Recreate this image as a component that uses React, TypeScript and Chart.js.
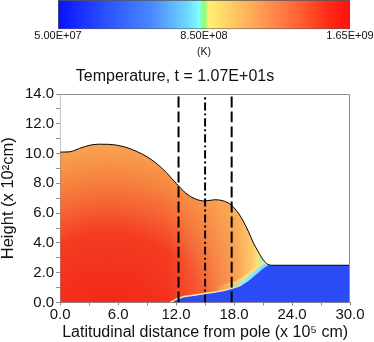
import React, { useEffect, useRef } from 'react';
import { Chart, registerables } from 'chart.js';

Chart.register(...registerables);

const FONT = "'Liberation Sans', Arial, Helvetica, sans-serif";

// ---- data ----
const surfaceX = [0, 1, 2, 3, 4, 5, 6, 7, 8, 9, 10, 11, 12, 13, 14, 15, 16, 17, 17.75, 18.5, 19, 19.5, 20, 20.5, 21, 21.5, 22, 30];
const surfaceH = [10.1, 10.12, 10.35, 10.55, 10.63, 10.62, 10.55, 10.38, 10.12, 9.78, 9.32, 8.72, 8.0, 7.35, 6.95, 6.82, 6.9, 6.8, 6.52, 5.95, 5.4, 4.75, 4.0, 3.42, 2.88, 2.56, 2.5, 2.5];

const coldX = [11.4, 11.7, 12, 12.5, 13, 14, 15, 16, 17, 17.75, 18.5, 19, 19.5, 20, 20.5, 21, 21.5, 30];
const coldH = [0, 0.1, 0.22, 0.34, 0.42, 0.5, 0.6, 0.7, 0.82, 0.95, 1.1, 1.3, 1.52, 1.78, 2.06, 2.33, 2.5, 2.5];

const dashedLineX = [12.25, 17.75];
const dashDotLineX = [15];

const heightRange = [0, 14];
const distanceRange = [0, 30];
const xLabelTicks = [0, 6, 12, 18, 24, 30];
const yLabelTicks = [0, 2, 4, 6, 8, 10, 12, 14];

const colorbarRange = [5.0e7, 1.65e9];
const colorbarTicks = [5.0e7, 8.5e8, 1.65e9];
const colorbarUnit = '(K)';
const titleText = 'Temperature, t = 1.07E+01s';
const xTitle = 'Latitudinal distance from pole (x 10\u2075 cm)';
const yTitle = 'Height (x 10\u00B2cm)';

// ---- helpers ----
function fmtSci(v: number) {
  const [m, e] = v.toExponential(2).split('e');
  const sign = e[0] === '-' ? '-' : '+';
  const digits = e.replace(/[+-]/, '').padStart(2, '0');
  return `${m}E${sign}${digits}`;
}

const toPts = (xs: number[], ys: number[]) => xs.map((x, i) => ({ x, y: ys[i] }));
const vLine = (x: number) => heightRange.map((y) => ({ x, y }));

function hGrad(chart: any, stops: [number, string][]) {
  const { ctx, scales } = chart;
  const x0 = scales.x.getPixelForValue(distanceRange[0]);
  const x1 = scales.x.getPixelForValue(distanceRange[1]);
  const g = ctx.createLinearGradient(x0, 0, x1, 0);
  const span = distanceRange[1] - distanceRange[0];
  stops.forEach(([v, c]) => g.addColorStop(Math.min(1, Math.max(0, (v - distanceRange[0]) / span)), c));
  return g;
}

function hotGrad(chart: any) {
  const { ctx, scales } = chart;
  const cx = scales.x.getPixelForValue(5);
  const cy = scales.y.getPixelForValue(-2);
  const g = ctx.createRadialGradient(cx, cy, 0, cx, cy, 200);
  g.addColorStop(0, '#f22416');
  g.addColorStop(0.3, '#f3301c');
  g.addColorStop(0.5, '#f43c22');
  g.addColorStop(0.62, '#f55e32');
  g.addColorStop(0.77, '#f6843f');
  g.addColorStop(0.91, '#f89e4e');
  g.addColorStop(1, '#f9a855');
  return g;
}

const safe = (fn: (chart: any) => any) => (c: any) => (c.chart.chartArea && c.chart.scales.x ? fn(c.chart) : 'rgba(0,0,0,0)');

const framePlugin = {
  id: 'frame',
  afterDatasetsDraw(chart: any) {
    const { ctx, chartArea } = chart;
    const l = Math.round(chartArea.left) + 0.5;
    const t = Math.round(chartArea.top) + 0.5;
    const r = Math.round(chartArea.right) - 0.5;
    const b = Math.round(chartArea.bottom);
    ctx.save();
    ctx.strokeStyle = '#8c8c8c';
    ctx.lineWidth = 1;
    ctx.beginPath();
    ctx.moveTo(l, t);
    ctx.lineTo(r, t);
    ctx.lineTo(r, b);
    ctx.stroke();
    ctx.restore();
  },
};

export default function App() {
  const mainRef = useRef<HTMLCanvasElement>(null);
  const barRef = useRef<HTMLCanvasElement>(null);

  useEffect(() => {
    Chart.defaults.font.family = FONT;

    const lineBase = { pointRadius: 0, pointHoverRadius: 0, cubicInterpolationMode: 'monotone' as const };

    const main = new Chart(mainRef.current!, {
      type: 'line',
      data: {
        datasets: [
          { ...lineBase, data: vLine(dashedLineX[0]), borderColor: '#000', borderWidth: 2, borderDash: [11, 4], fill: false },
          { ...lineBase, data: vLine(dashedLineX[1]), borderColor: '#000', borderWidth: 2, borderDash: [11, 4], fill: false },
          { ...lineBase, data: vLine(dashDotLineX[0]), borderColor: '#000', borderWidth: 2, borderDash: [8, 3, 2, 3], fill: false },
          // sky mask + surface line
          { ...lineBase, data: toPts(surfaceX, surfaceH), borderColor: '#000', borderWidth: 1, fill: 'end', backgroundColor: '#ffffff' },
          // cold region
          {
            ...lineBase,
            data: toPts(coldX, coldH),
            fill: 'origin',
            backgroundColor: '#2b4cf6',
            borderWidth: 1.5,
            borderColor: safe((ch) => hGrad(ch, [[11.4, '#fbe6a0'], [17, '#fbe0a0'], [19.5, '#90e8ff'], [21.4, '#70c0ff'], [21.7, '#2b4cf6']])),
          },
          // cyan band
          {
            ...lineBase,
            data: toPts(coldX, coldH),
            fill: false,
            borderWidth: 6,
            borderColor: safe((ch) => hGrad(ch, [[17.5, 'rgba(130,235,255,0)'], [19.5, 'rgba(130,235,255,1)'], [21.3, 'rgba(130,235,255,1)'], [21.6, 'rgba(130,235,255,0)']])),
          },
          // yellow band
          {
            ...lineBase,
            data: toPts(coldX, coldH),
            fill: false,
            borderWidth: 12,
            borderColor: safe((ch) => hGrad(ch, [[16, 'rgba(253,225,120,0)'], [19, 'rgba(253,225,120,0.95)'], [21.3, 'rgba(253,225,120,0.95)'], [21.6, 'rgba(253,225,120,0)']])),
          },
          // lightening towards the right edge
          {
            ...lineBase,
            data: toPts(surfaceX, surfaceH),
            fill: 'origin',
            borderWidth: 0,
            borderColor: 'rgba(0,0,0,0)',
            backgroundColor: safe((ch) =>
              hGrad(ch, [
                [11, 'rgba(251,180,95,0)'],
                [15, 'rgba(250,175,92,0.3)'],
                [18, 'rgba(251,180,96,0.65)'],
                [19.3, 'rgba(252,195,105,0.9)'],
                [19.9, 'rgba(252,205,105,0.95)'],
                [20.4, '#fde27a'],
                [20.8, '#b0f0a0'],
                [21.05, '#80e8ff'],
                [21.3, '#60a8ff'],
                [21.6, '#2b4cf6'],
              ])
            ),
          },
          // hot region
          {
            ...lineBase,
            data: toPts(surfaceX, surfaceH),
            fill: 'origin',
            borderWidth: 0,
            borderColor: 'rgba(0,0,0,0)',
            backgroundColor: safe(hotGrad),
          },
        ],
      },
      options: {
        animation: false,
        responsive: false,
        events: [],
        layout: { padding: { top: 62, left: 0, right: 24, bottom: 0 } },
        plugins: {
          legend: { display: false },
          tooltip: { enabled: false },
          title: {
            display: true,
            text: titleText,
            color: '#111',
            font: { family: FONT, size: 16, weight: 'normal' },
            padding: { top: 5.4, bottom: 7.4 },
          },
        },
        scales: {
          x: {
            type: 'linear',
            min: distanceRange[0],
            max: distanceRange[1],
            ticks: {
              stepSize: 3,
              autoSkip: false,
              maxRotation: 0,
              padding: 2,
              color: '#111',
              font: { family: FONT, size: 15, lineHeight: 1 },
              callback: (v: any) => (xLabelTicks.includes(Number(v)) ? Number(v).toFixed(1) : ''),
            },
            grid: { drawOnChartArea: false, tickLength: 3, color: '#8c8c8c' },
            border: { color: '#8c8c8c' },
            title: { display: true, text: xTitle, color: '#111', font: { family: FONT, size: 16, lineHeight: 1 }, padding: { top: 0, bottom: 1.5 } },
          },
          y: {
            type: 'linear',
            min: heightRange[0],
            max: heightRange[1],
            ticks: {
              stepSize: 1,
              autoSkip: false,
              padding: 2,
              color: '#111',
              font: { family: FONT, size: 15, lineHeight: 1 },
              callback: (v: any) => (yLabelTicks.includes(Number(v)) ? Number(v).toFixed(1) : ''),
            },
            grid: { drawOnChartArea: false, tickLength: 4, color: '#8c8c8c' },
            border: { color: '#8c8c8c' },
            title: { display: true, text: yTitle, color: '#111', font: { family: FONT, size: 16.5, lineHeight: 1 }, padding: { top: 0, bottom: 6.5 } },
          },
        },
      },
      plugins: [framePlugin],
    });

    const bar = new Chart(barRef.current!, {
      type: 'bar',
      data: {
        labels: ['T'],
        datasets: [
          {
            data: [[colorbarRange[0], colorbarRange[1]]] as any,
            backgroundColor: (c: any) => {
              const ch = c.chart;
              if (!ch.chartArea) return 'rgba(0,0,0,0)';
              const x0 = ch.scales.x.getPixelForValue(colorbarRange[0]);
              const x1 = ch.scales.x.getPixelForValue(colorbarRange[1]);
              const g = ch.ctx.createLinearGradient(x0, 0, x1, 0);
              g.addColorStop(0, '#0a10ff');
              g.addColorStop(0.16, '#2a50ff');
              g.addColorStop(0.32, '#4a88ff');
              g.addColorStop(0.45, '#70dcff');
              g.addColorStop(0.485, '#80ffff');
              g.addColorStop(0.495, '#90ff80');
              g.addColorStop(0.505, '#90ff80');
              g.addColorStop(0.515, '#fff070');
              g.addColorStop(0.62, '#ffc060');
              g.addColorStop(0.72, '#ff9050');
              g.addColorStop(0.83, '#ff6030');
              g.addColorStop(0.93, '#ff2a18');
              g.addColorStop(1, '#ff1010');
              return g;
            },
            borderColor: '#555',
            borderWidth: 1,
            borderSkipped: false,
            barPercentage: 1,
            categoryPercentage: 1,
          },
        ],
      },
      options: {
        indexAxis: 'y',
        animation: false,
        responsive: false,
        events: [],
        layout: { padding: { left: 58, right: 24, top: 0, bottom: 0 } },
        plugins: { legend: { display: false }, tooltip: { enabled: false } },
        scales: {
          y: { display: false },
          x: {
            type: 'linear',
            min: colorbarRange[0],
            max: colorbarRange[1],
            afterBuildTicks: (s: any) => {
              s.ticks = colorbarTicks.map((v) => ({ value: v }));
            },
            ticks: {
              autoSkip: false,
              maxRotation: 0,
              padding: 0,
              color: '#111',
              font: { family: FONT, size: 11 },
              callback: (v: any) => fmtSci(Number(v)),
            },
            grid: { display: false, drawTicks: false },
            border: { display: false },
            title: { display: true, text: colorbarUnit, color: '#111', font: { family: FONT, size: 10.5 }, padding: { top: 3, bottom: 0 } },
          },
        },
      },
    });

    return () => {
      main.destroy();
      bar.destroy();
    };
  }, []);

  return (
    <div style={{ position: 'absolute', left: 0, top: 0, width: 374, height: 342, background: '#fff' }}>
      <canvas ref={mainRef} width={374} height={342} style={{ position: 'absolute', left: 0, top: 0 }} />
      <canvas ref={barRef} width={374} height={58} style={{ position: 'absolute', left: 0, top: 0 }} />
    </div>
  );
}
